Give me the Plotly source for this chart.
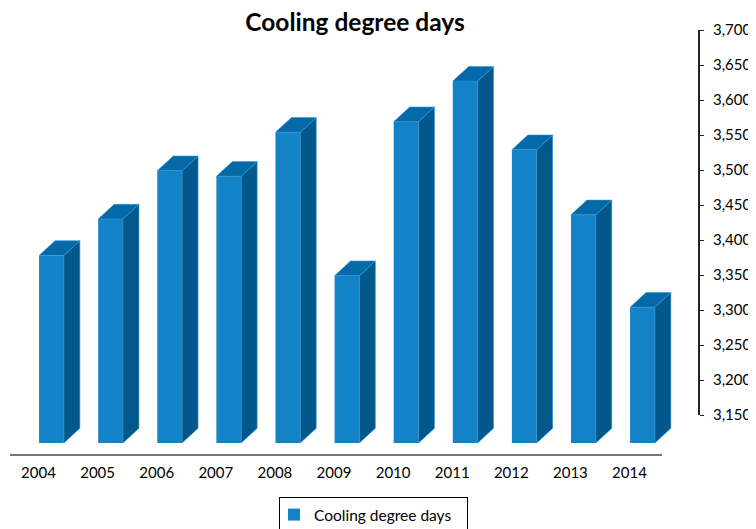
import plotly.graph_objects as go

years = [2004, 2005, 2006, 2007, 2008, 2009, 2010, 2011, 2012, 2013, 2014]
cooling_degree_days = [3378, 3430, 3499, 3491, 3554, 3349, 3569, 3627, 3529, 3436, 3304]
y_ticks = [3150, 3200, 3250, 3300, 3350, 3400, 3450, 3500, 3550, 3600, 3650, 3700]

BASE = 3110
BAR_OFFSET = 0.01
BAR_WIDTH = 0.42
DEPTH_X = 0.27
DEPTH_Y = 21

FRONT = "#1482C6"
SIDE = "#02588A"
TOP = "#0469A6"
EDGE = "#2E9BDD"

side_x, side_y, top_x, top_y = [], [], [], []
for yr, v in zip(years, cooling_degree_days):
    x0 = yr + BAR_OFFSET
    x1 = x0 + BAR_WIDTH
    side_x += [x1, x1 + DEPTH_X, x1 + DEPTH_X, x1, x1, None]
    side_y += [BASE, BASE + DEPTH_Y, v + DEPTH_Y, v, BASE, None]
    top_x += [x0, x0 + DEPTH_X, x1 + DEPTH_X, x1, x0, None]
    top_y += [v, v + DEPTH_Y, v + DEPTH_Y, v, v, None]

fig = go.Figure()
fig.add_trace(go.Scatter(x=side_x, y=side_y, mode="lines", fill="toself", fillcolor=SIDE,
                         line=dict(color=EDGE, width=0.6), showlegend=False, hoverinfo="skip"))
fig.add_trace(go.Scatter(x=top_x, y=top_y, mode="lines", fill="toself", fillcolor=TOP,
                         line=dict(color=EDGE, width=0.6), showlegend=False, hoverinfo="skip"))
fig.add_trace(go.Bar(x=years, y=[v - BASE for v in cooling_degree_days], base=BASE,
                     offset=BAR_OFFSET, width=BAR_WIDTH, name="Cooling degree days",
                     marker=dict(color=FRONT, line=dict(width=0))))

# The page adds an 8 px body margin, so the figure is 8 px smaller than the window.
W, H = 748, 521
L, R, T, B = 2, 57, 22, 74
plot_w = W - L - R
plot_h = H - T - B
X_MIN, X_MAX, X_LINE_END = 2003.518, 2015.176, 2014.55
Y_TOP = 3700
Y_MIN = Y_TOP - plot_h / 0.7

fig.update_layout(
    width=W, height=H, autosize=False,
    margin=dict(l=L, r=R, t=T, b=B, autoexpand=False),
    paper_bgcolor="white", plot_bgcolor="white",
    font=dict(family="Lato", size=15, color="black"),
    title=dict(text="<b>Cooling degree days</b>", x=347 / W, xanchor="center", xref="container",
               y=1 - 14 / H, yanchor="middle", yref="container", font=dict(size=24.5, color="black")),
    xaxis=dict(range=[X_MIN, X_MAX], tickmode="array", tickvals=years,
               ticktext=[str(y) for y in years], showgrid=False, zeroline=False,
               showline=False, ticks="", tickfont=dict(size=15), ticklabelstandoff=7),
    yaxis=dict(range=[Y_MIN, Y_TOP], side="right",
               tickmode="array", tickvals=y_ticks, tickformat=",d", showgrid=False, zeroline=False,
               showline=False, ticks="outside", ticklen=4,
               tickcolor="#222222", tickwidth=1, tickfont=dict(size=15), ticklabelstandoff=6),
    shapes=[
        dict(type="line", xref="x", yref="paper", x0=X_MIN, x1=X_LINE_END, y0=0, y1=0,
             line=dict(color="#777777", width=2)),
        dict(type="line", xref="paper", yref="y", x0=1, x1=1, y0=min(y_ticks), y1=max(y_ticks),
             line=dict(color="#222222", width=2)),
    ],
    showlegend=True,
    legend=dict(x=(279 - 8 - L) / plot_w, xanchor="left", y=(447 - 489) / plot_h, yanchor="top",
                orientation="h", bordercolor="black", borderwidth=1, bgcolor="white",
                font=dict(size=15.5), itemwidth=30, indentation=-6,
                entrywidth=148, entrywidthmode="pixels"),
)
fig.write_html("out.html", default_width="748px", default_height="521px")
